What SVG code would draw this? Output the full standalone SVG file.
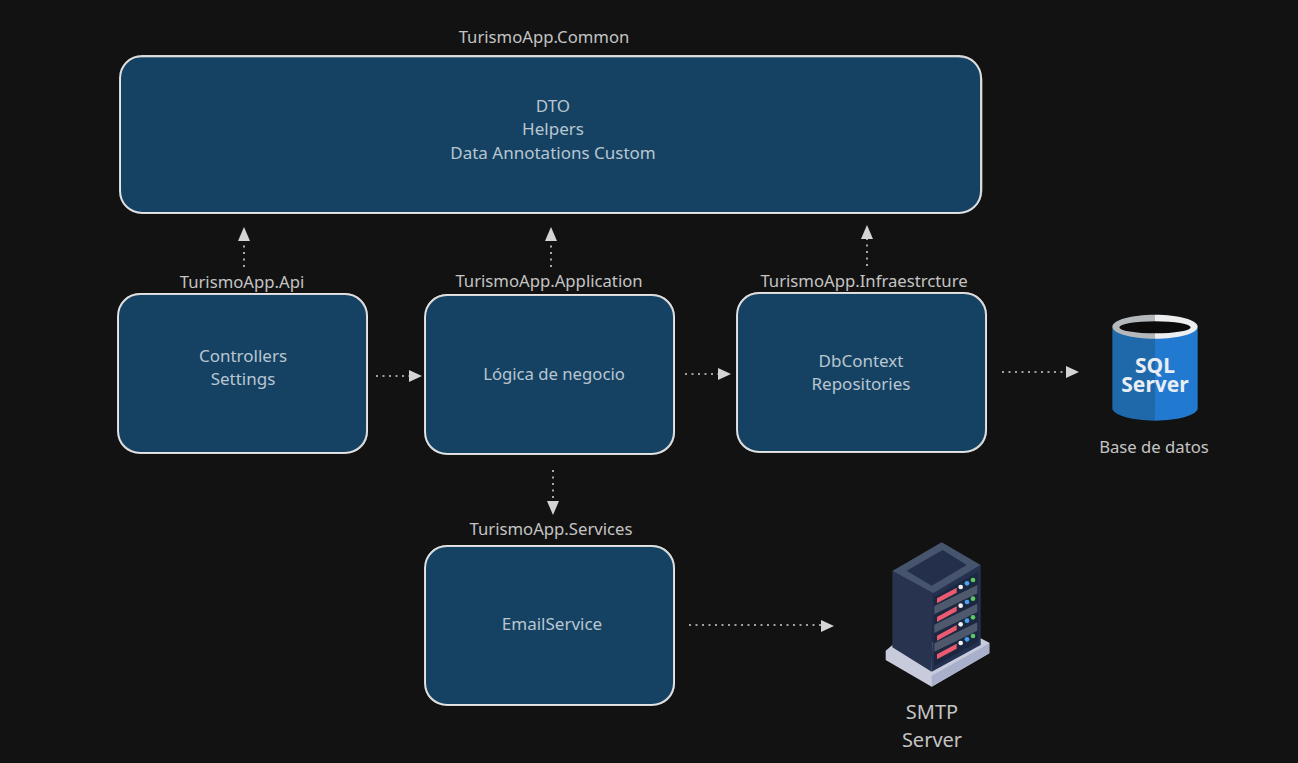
<svg xmlns="http://www.w3.org/2000/svg" width="1298" height="763" viewBox="0 0 1298 763">
<style>
text{font-family:"Noto Sans","Open Sans",sans-serif;font-size:17px;text-anchor:middle}
.box{fill:#154263;stroke:#d6d6d6;stroke-width:2}
.sk{fill:none;stroke:#f2f2f2;stroke-width:.8;opacity:.7}
.in{fill:#b9c6d1}
.lb{fill:#c4c4c4;font-size:16.700px}
.c{fill:none;stroke:#cfcfcf;stroke-width:1.6;stroke-dasharray:2 4.500}
.h{fill:#d4d4d4}
.red{fill:#ea5a70}.w{fill:#eef0f4}.bl{fill:#4aa3ef}.gr{fill:#5ccb5f}.band{fill:#4f596d}
</style>
<defs>
<g id="lights"><polygon class="red" points="201,205 260,173 260,188 201,220"/><circle class="w" cx="272" cy="171" r="7"/><circle class="bl" cx="291" cy="160" r="7"/><circle class="gr" cx="309" cy="150" r="7"/></g>
<polygon id="bandshape" class="band" points="193,228 322,165 322,190 193,253"/>
</defs>
<rect width="1298" height="763" fill="#121212"/>
<g id="connectors">
<path class="c" d="M244 267V241"/><polygon class="h" points="244,227 250,241 238,241"/>
<path class="c" d="M551 267V241"/><polygon class="h" points="551,227 557,241 545,241"/>
<path class="c" d="M867 266V239"/><polygon class="h" points="867,225 873,239 861,239"/>
<path class="c" d="M376 376H409"/><polygon class="h" points="422,376 409,370 409,382"/>
<path class="c" d="M685 374H718"/><polygon class="h" points="731,374 718,368 718,380"/>
<path class="c" d="M1002 372H1066"/><polygon class="h" points="1079,372 1066,366 1066,378"/>
<path class="c" d="M553 470V501"/><polygon class="h" points="553,515 547,501 559,501"/>
<path class="c" d="M689 625H821"/><polygon class="h" points="834,626 821,620 821,632"/>
</g>
<g id="common">
<rect class="box" x="120" y="56" width="861" height="157" rx="22"/>
<path class="sk" d="M142 57H958C972 57 981 66 982 80L982 190C981 204 972 213 958 212.500H142C128 212 120 204 120.500 190V80C120 66 128 56 142 57Z"/>
<text class="lb" x="544" y="43">TurismoApp.Common</text>
<text class="in" x="553" y="112">DTO</text>
<text class="in" x="553" y="135">Helpers</text>
<text class="in" x="553" y="159">Data Annotations Custom</text>
</g>
<g id="api">
<rect class="box" x="118" y="294" width="249" height="159" rx="22"/>
<path class="sk" d="M140 293.500H345C359 294 367 303 367.500 316V431C367 445 359 453 345 452.500H140C126 453 118 445 118.500 431V316C118 303 126 294 140 293.500Z"/>
<text class="lb" x="242" y="288">TurismoApp.Api</text>
<text class="in" x="243" y="362">Controllers</text>
<text class="in" x="243" y="385">Settings</text>
</g>
<g id="application">
<rect class="box" x="425" y="295" width="249" height="159" rx="22"/>
<path class="sk" d="M447 294.500H652C666 295 674 304 674.500 317V432C674 446 666 454 652 453.500H447C433 454 425 446 425.500 432V317C425 304 433 295 447 294.500Z"/>
<text class="lb" x="549" y="287">TurismoApp.Application</text>
<text class="in" x="554" y="380" style="font-size:16.700px">Lógica de negocio</text>
</g>
<g id="infrastructure">
<rect class="box" x="737" y="293" width="249" height="159" rx="22"/>
<path class="sk" d="M759 292.500H964C978 293 986 302 986.500 315V430C986 444 978 452 964 451.500H759C745 452 737 444 737.500 430V315C737 302 745 293 759 292.500Z"/>
<text class="lb" x="864" y="287">TurismoApp.Infraestrcture</text>
<text class="in" x="861" y="367">DbContext</text>
<text class="in" x="861" y="390">Repositories</text>
</g>
<g id="services">
<rect class="box" x="425" y="546" width="249" height="159" rx="22"/>
<path class="sk" d="M447 545.500H652C666 546 674 555 674.500 568V683C674 697 666 705 652 704.500H447C433 705 425 697 425.500 683V568C425 555 433 546 447 545.500Z"/>
<text class="lb" x="551" y="535">TurismoApp.Services</text>
<text class="in" x="552" y="630">EmailService</text>
</g>
<g id="database">
<g transform="translate(1080 300) scale(.33333)">
<path d="M97 85V325C97 345 155 362 225 362V85Z" fill="#1f69ab"/>
<path d="M225 85V362C295 362 353 345 353 325V85Z" fill="#2179d0"/>
<path d="M97 80C97 60 155 44 225 44V116C155 116 97 100 97 80Z" fill="#b4b8bb"/>
<path d="M225 44C295 44 353 60 353 80C353 100 295 116 225 116Z" fill="#eceeef"/>
<ellipse cx="225" cy="82" rx="107" ry="18" fill="#0c0c0c"/>
</g>
<text style="font-weight:700;fill:#e8eef4;font-size:21px"><tspan x="1155" y="373">SQL</tspan><tspan x="1155" y="392">Server</tspan></text>
<text class="lb" x="1154" y="453">Base de datos</text>
</g>
<g id="smtp">
<g transform="translate(870 530) scale(.33333)">
<polygon points="47,362 67,345 332,325 358,338 358,370 185,470 47,390" fill="#c7cbdc"/>
<polygon points="185,437 358,340 358,370 185,470" fill="#a9b0cb"/>
<polygon points="67,123 190,190 185,425 67,352" fill="#27334f"/>
<polygon points="190,190 332,105 332,345 185,425" fill="#253150"/>
<polygon points="192,200 325,125 325,335 192,408" fill="#1c2740"/>
<polygon points="215,37 332,105 190,190 67,123" fill="#46546e"/>
<polygon points="218,60 290,105 185,167 110,122" fill="#242f4b"/>
<use href="#bandshape"/><use href="#bandshape" y="56"/><use href="#bandshape" y="112"/>
<use href="#lights"/><use href="#lights" y="56"/><use href="#lights" y="112"/><use href="#lights" y="168"/>
</g>
<text class="lb" x="932" y="719" style="font-size:20px">SMTP</text>
<text class="lb" x="932" y="747" style="font-size:20px">Server</text>
</g>
</svg>
